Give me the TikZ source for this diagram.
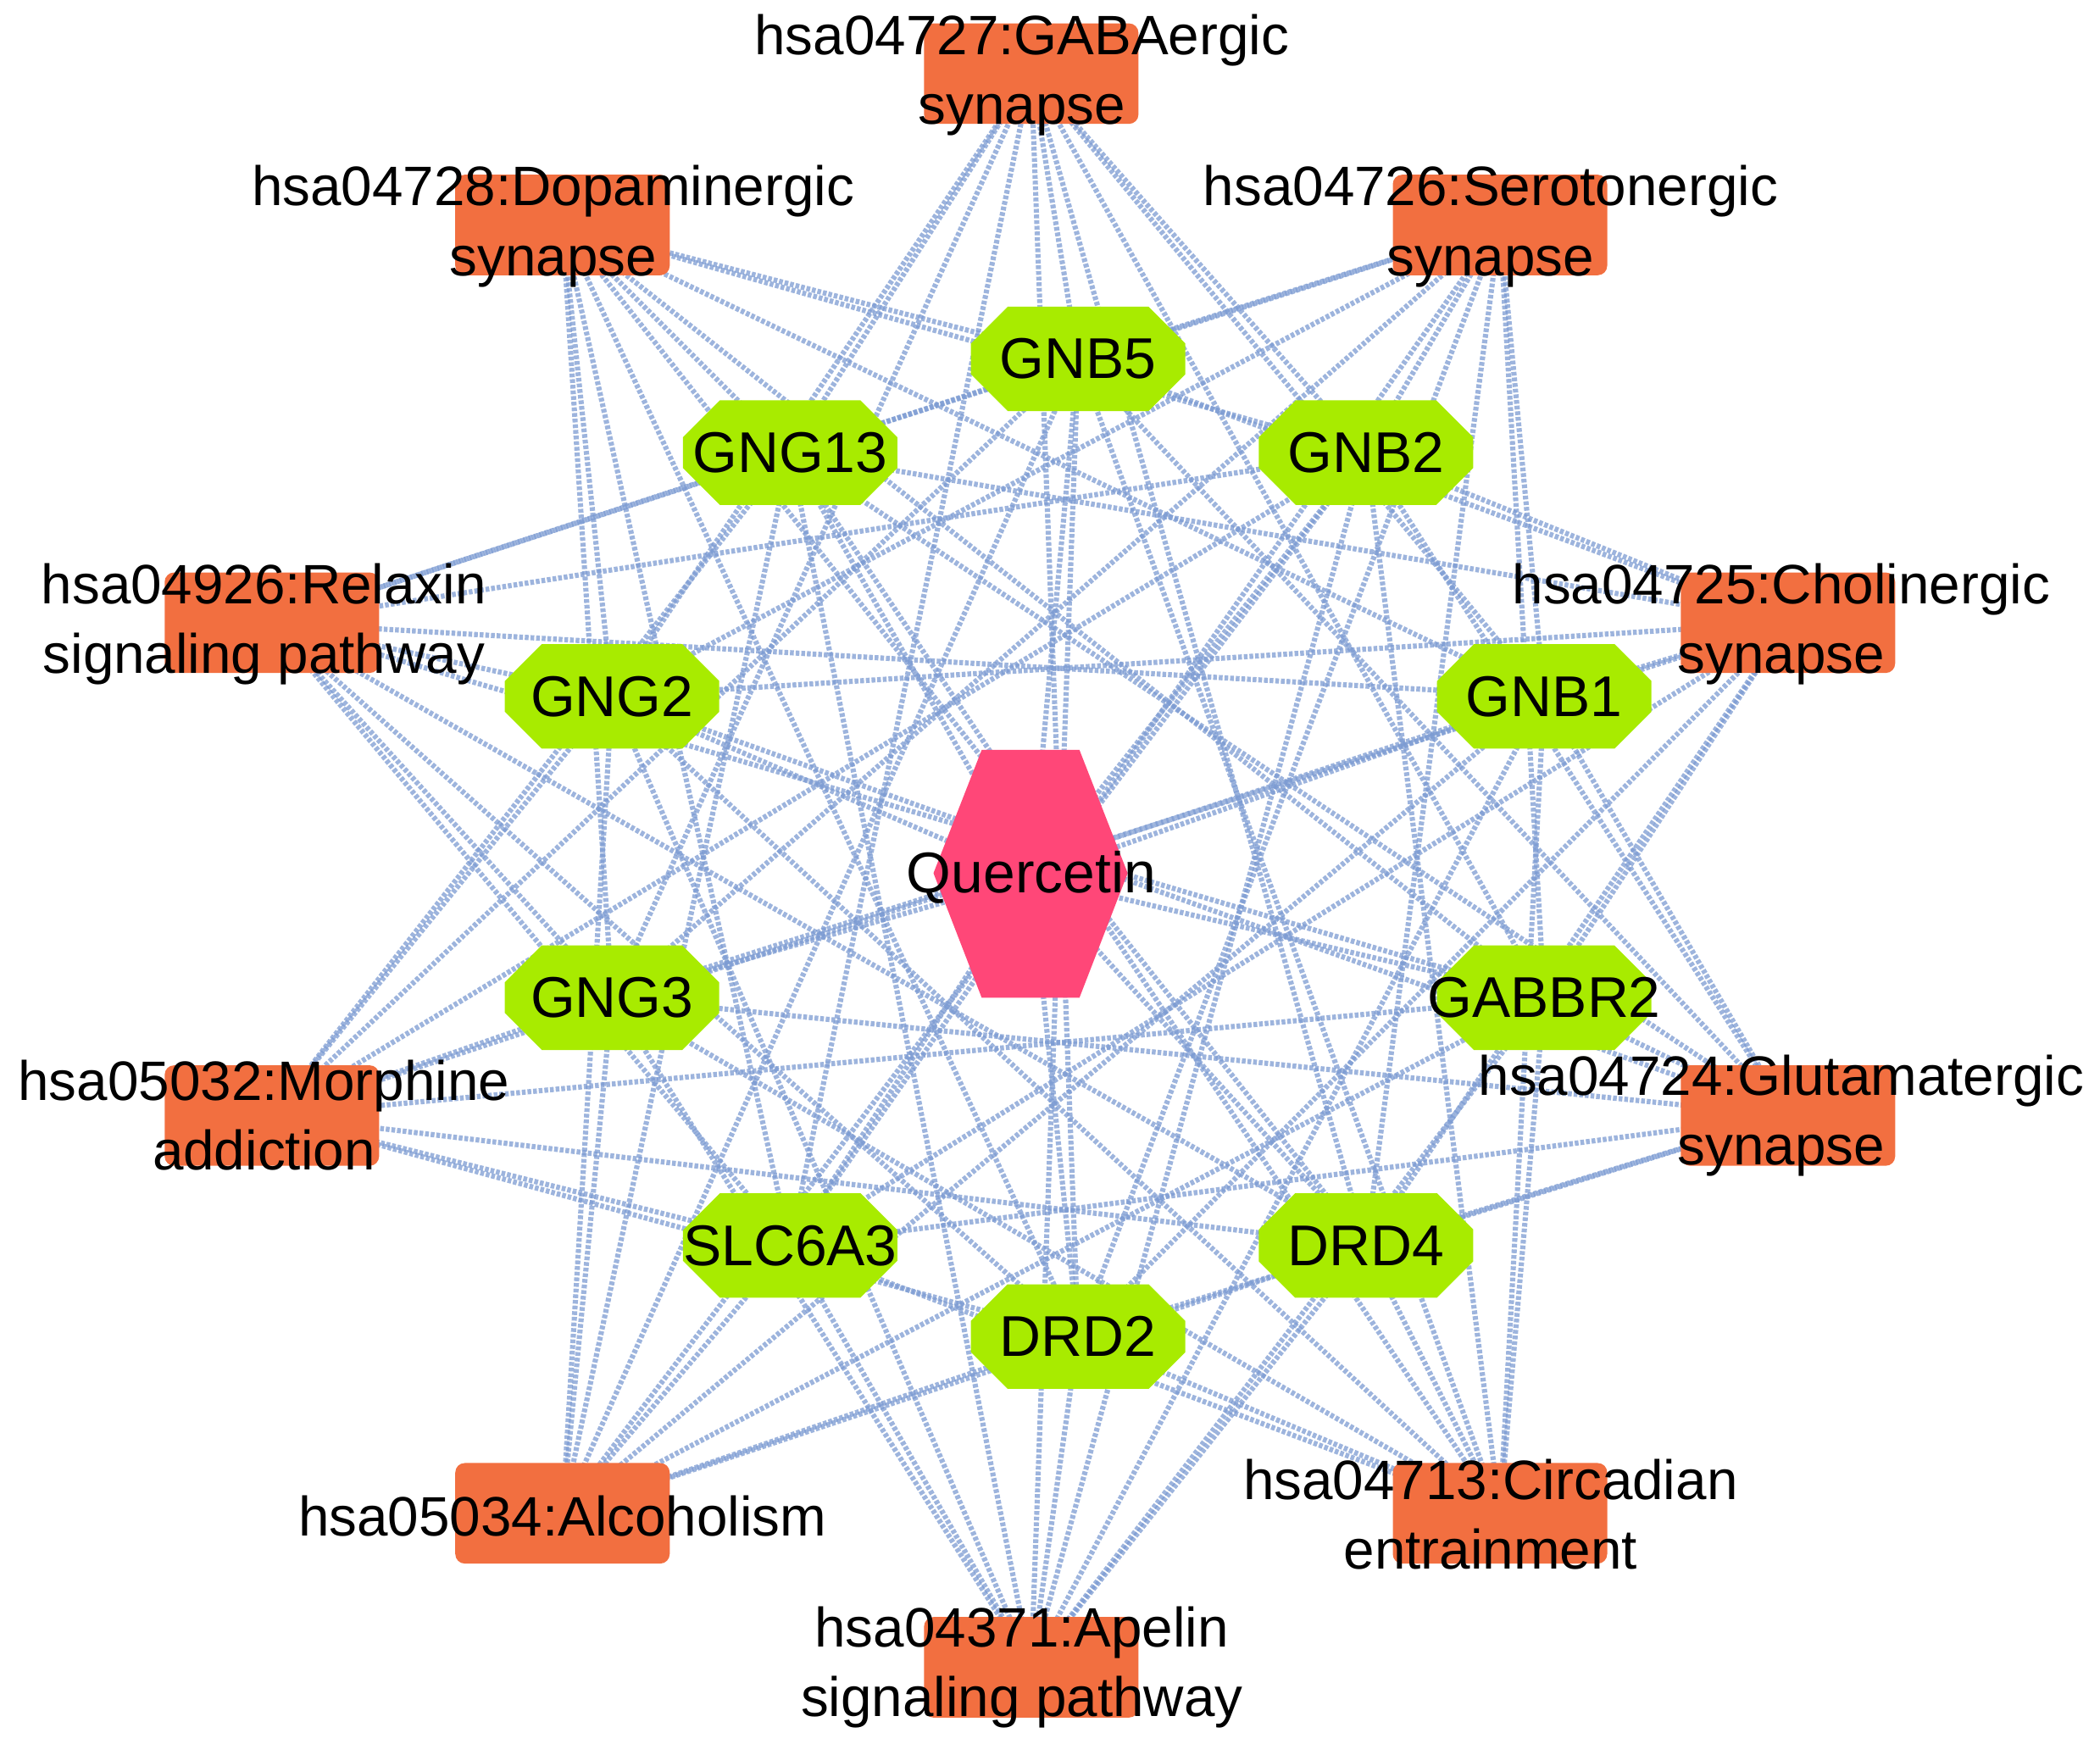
\documentclass[tikz,border=0pt]{standalone}
\usepackage{fontspec}
\setmainfont{Liberation Sans}
\usetikzlibrary{shapes.misc,backgrounds}
\definecolor{gene}{HTML}{A8EB00}
\definecolor{path}{HTML}{F26F40}
\definecolor{drug}{HTML}{FF4778}
\definecolor{edge}{HTML}{7C9BD2}
\begin{document}
\begin{tikzpicture}[x=0.01cm,y=-0.01cm,
  genebox/.style={chamfered rectangle,chamfered rectangle xsep=0.25cm,fill=gene,draw=none,minimum width=1.6cm,minimum height=0.78cm,inner ysep=0pt,inner xsep=-0.4cm,font=\fontsize{12.2}{14}\selectfont},
  pathbox/.style={rectangle,rounded corners=2pt,fill=path,draw=none,minimum width=1.6cm,minimum height=0.75cm},
  lab/.style={align=center,font=\fontsize{11.8}{14.8}\selectfont,inner sep=0pt},
  link/.style={draw=edge,line width=1.1pt,opacity=0.75,dash pattern=on 0.8pt off 0.4pt}]
\useasboundingbox (0,0) rectangle (1568,1310);
% drug
\fill[drug] (697,652) -- (733,560) -- (806,560) -- (842,652) -- (806,745) -- (733,745) -- cycle;
\node[font=\fontsize{12.2}{14}\selectfont,inner sep=0pt] (Q) at (770,655) {Quercetin};
% genes
\node[genebox] (GNB5) at (805,268) {GNB5};
\node[genebox] (GNG13) at (590,338) {GNG13};
\node[genebox] (GNB2) at (1020,338) {GNB2};
\node[genebox] (GNG2) at (457,520) {GNG2};
\node[genebox] (GNB1) at (1153,520) {GNB1};
\node[genebox] (GNG3) at (457,745) {GNG3};
\node[genebox] (GABBR2) at (1153,745) {GABBR2};
\node[genebox] (SLC6A3) at (590,930) {SLC6A3};
\node[genebox] (DRD4) at (1020,930) {DRD4};
\node[genebox] (DRD2) at (805,998) {DRD2};
% pathways
\node[pathbox] (P1) at (770,55) {};
\node[pathbox] (P2) at (420,168) {};
\node[pathbox] (P3) at (1120,168) {};
\node[pathbox] (P4) at (203,465) {};
\node[pathbox] (P5) at (1335,465) {};
\node[pathbox] (P6) at (203,833) {};
\node[pathbox] (P7) at (1335,833) {};
\node[pathbox] (P8) at (420,1130) {};
\node[pathbox] (P9) at (1120,1130) {};
\node[pathbox] (P10) at (770,1245) {};
\node[lab] (L1) at (763,56) {hsa04727:GABAergic\\synapse};
\node[lab] (L2) at (413,169) {hsa04728:Dopaminergic\\synapse};
\node[lab] (L3) at (1113,169) {hsa04726:Serotonergic\\synapse};
\node[lab] (L4) at (197,466) {hsa04926:Relaxin\\signaling pathway};
\node[lab] (L5) at (1330,466) {hsa04725:Cholinergic\\synapse};
\node[lab] (L6) at (197,833) {hsa05032:Morphine\\addiction};
\node[lab] (L7) at (1330,833) {hsa04724:Glutamatergic\\synapse};
\node[lab] (L8) at (420,1132) {hsa05034:Alcoholism};
\node[lab] (L9) at (1113,1131) {hsa04713:Circadian\\entrainment};
\node[lab] (L10) at (763,1245) {hsa04371:Apelin\\signaling pathway};
\begin{scope}[on background layer]
\foreach \g in {GNB5,GNG13,GNB2,GNG2,GNB1,GNG3,GABBR2,SLC6A3,DRD4,DRD2}{
  \draw[link] (Q.center) -- (\g.center);
  \foreach \p in {P1,P2,P3,P4,P5,P6,P7,P8,P9,P10}{
    \draw[link] (\g.center) -- (\p.center);
  }
}
\end{scope}
\end{tikzpicture}
\end{document}
